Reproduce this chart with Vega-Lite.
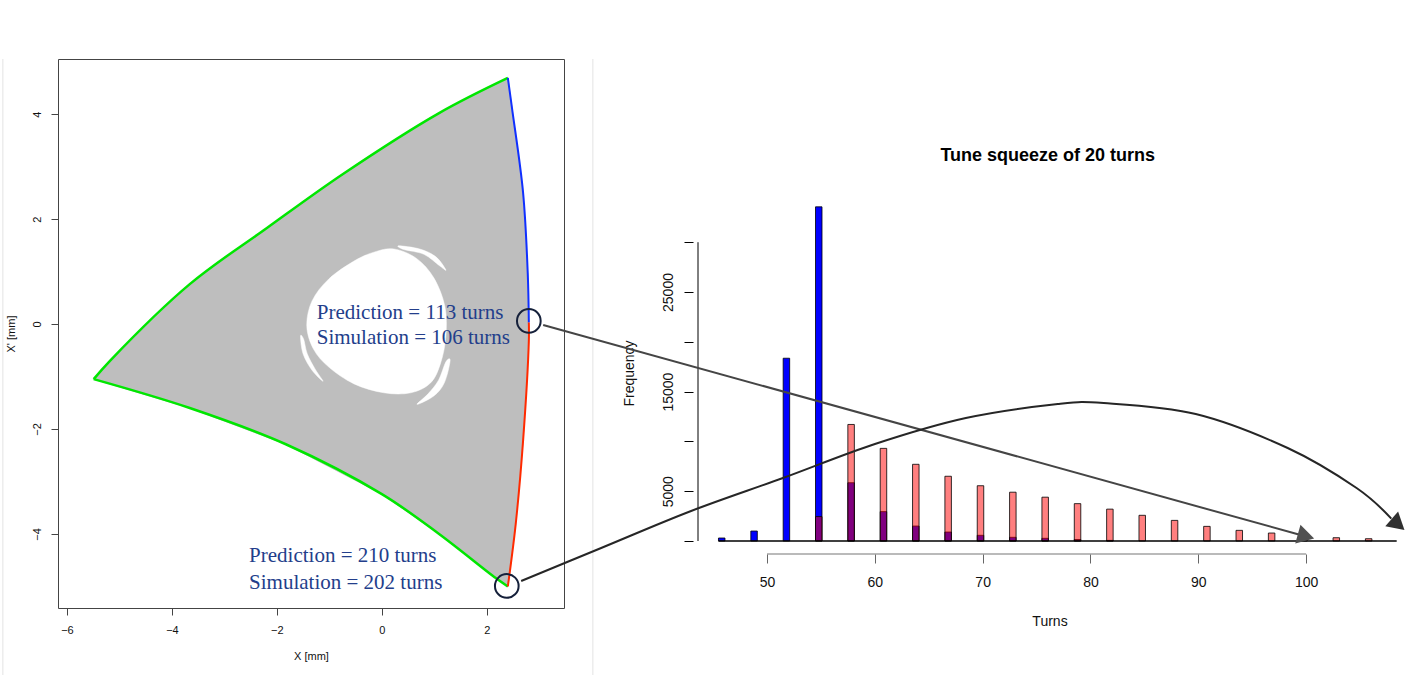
{
  "$schema": "https://vega.github.io/schema/vega-lite/v6.json",
  "padding": {"left": 1, "top": 58, "right": 0, "bottom": 0},
  "background": "white",
  "spacing": 129,
  "bounds": "flush",
  "config": {
    "view": {"stroke": null},
    "axis": {"grid": false, "labelFont": "Liberation Sans", "titleFont": "Liberation Sans", "labelColor": "#111", "titleColor": "#111", "titleFontWeight": "normal"}
  },
  "datasets": {
    "seps": [{"x": -7.22, "y": 5.05, "y2": -6.7}, {"x": 4.02, "y": 5.05, "y2": -6.7}],
    "poly": [
      {"i": 0, "x": -5.49, "y": -1.05}, {"i": 1, "x": -5.18, "y": -0.70}, {"i": 2, "x": -3.66, "y": 0.76},
      {"i": 3, "x": -2.19, "y": 1.83}, {"i": 4, "x": -0.74, "y": 2.86}, {"i": 5, "x": 1.09, "y": 4.02},
      {"i": 6, "x": 2.40, "y": 4.69}, {"i": 7, "x": 2.48, "y": 4.11}, {"i": 8, "x": 2.69, "y": 2.51},
      {"i": 9, "x": 2.78, "y": 0.95}, {"i": 10, "x": 2.80, "y": 0.03}, {"i": 11, "x": 2.80, "y": -0.32},
      {"i": 12, "x": 2.69, "y": -2.23}, {"i": 13, "x": 2.55, "y": -3.81}, {"i": 14, "x": 2.40, "y": -5.0},
      {"i": 15, "x": 2.17, "y": -4.84}, {"i": 16, "x": 1.09, "y": -4.0}, {"i": 17, "x": 0.0, "y": -3.24},
      {"i": 18, "x": -1.83, "y": -2.29}, {"i": 19, "x": -3.66, "y": -1.60}
    ],
    "hole": [
      {"part": "h", "i": 0, "x": 0.23, "y": 1.43}, {"part": "h", "i": 1, "x": 0.66, "y": 1.25},
      {"part": "h", "i": 2, "x": 0.99, "y": 0.88}, {"part": "h", "i": 3, "x": 1.20, "y": 0.34},
      {"part": "h", "i": 4, "x": 1.22, "y": -0.23}, {"part": "h", "i": 5, "x": 1.12, "y": -0.74},
      {"part": "h", "i": 6, "x": 0.93, "y": -1.12}, {"part": "h", "i": 7, "x": 0.55, "y": -1.31},
      {"part": "h", "i": 8, "x": 0.04, "y": -1.31}, {"part": "h", "i": 9, "x": -0.53, "y": -1.14},
      {"part": "h", "i": 10, "x": -1.01, "y": -0.82}, {"part": "h", "i": 11, "x": -1.30, "y": -0.48},
      {"part": "h", "i": 12, "x": -1.43, "y": -0.04}, {"part": "h", "i": 13, "x": -1.33, "y": 0.44},
      {"part": "h", "i": 14, "x": -1.01, "y": 0.86}, {"part": "h", "i": 15, "x": -0.53, "y": 1.20},
      {"part": "h", "i": 16, "x": -0.15, "y": 1.37},
      {"part": "c1", "i": 0, "x": 0.32, "y": 1.49}, {"part": "c1", "i": 1, "x": 0.72, "y": 1.43},
      {"part": "c1", "i": 2, "x": 1.03, "y": 1.28}, {"part": "c1", "i": 3, "x": 1.22, "y": 1.03},
      {"part": "c1", "i": 4, "x": 1.10, "y": 1.11}, {"part": "c1", "i": 5, "x": 0.80, "y": 1.33},
      {"part": "c1", "i": 6, "x": 0.42, "y": 1.42},
      {"part": "c2", "i": 0, "x": -1.55, "y": -0.23}, {"part": "c2", "i": 1, "x": -1.50, "y": -0.57},
      {"part": "c2", "i": 2, "x": -1.33, "y": -0.88}, {"part": "c2", "i": 3, "x": -1.12, "y": -1.09},
      {"part": "c2", "i": 4, "x": -1.27, "y": -0.86}, {"part": "c2", "i": 5, "x": -1.42, "y": -0.57},
      {"part": "c2", "i": 6, "x": -1.49, "y": -0.29},
      {"part": "c3", "i": 0, "x": 1.30, "y": -0.70}, {"part": "c3", "i": 1, "x": 1.19, "y": -1.12},
      {"part": "c3", "i": 2, "x": 0.99, "y": -1.37}, {"part": "c3", "i": 3, "x": 0.67, "y": -1.53},
      {"part": "c3", "i": 4, "x": 0.88, "y": -1.33}, {"part": "c3", "i": 5, "x": 1.08, "y": -1.07},
      {"part": "c3", "i": 6, "x": 1.22, "y": -0.72}
    ],
    "green": [
      {"part": "u", "i": 0, "x": -5.49, "y": -1.05}, {"part": "u", "i": 1, "x": -5.18, "y": -0.70},
      {"part": "u", "i": 2, "x": -3.66, "y": 0.76}, {"part": "u", "i": 3, "x": -2.19, "y": 1.83},
      {"part": "u", "i": 4, "x": -0.74, "y": 2.86}, {"part": "u", "i": 5, "x": 1.09, "y": 4.02},
      {"part": "u", "i": 6, "x": 2.40, "y": 4.69},
      {"part": "l", "i": 0, "x": -5.49, "y": -1.05}, {"part": "l", "i": 1, "x": -3.66, "y": -1.60},
      {"part": "l", "i": 2, "x": -1.83, "y": -2.29}, {"part": "l", "i": 3, "x": 0.0, "y": -3.24},
      {"part": "l", "i": 4, "x": 1.09, "y": -4.0}, {"part": "l", "i": 5, "x": 2.17, "y": -4.84},
      {"part": "l", "i": 6, "x": 2.40, "y": -5.0}
    ],
    "blueEdge": [
      {"i": 0, "x": 2.40, "y": 4.69}, {"i": 1, "x": 2.48, "y": 4.11}, {"i": 2, "x": 2.69, "y": 2.51},
      {"i": 3, "x": 2.78, "y": 0.95}, {"i": 4, "x": 2.80, "y": 0.03}
    ],
    "redEdge": [
      {"i": 0, "x": 2.80, "y": 0.03}, {"i": 1, "x": 2.80, "y": -0.32}, {"i": 2, "x": 2.69, "y": -2.23},
      {"i": 3, "x": 2.55, "y": -3.81}, {"i": 4, "x": 2.40, "y": -5.0}
    ],
    "circles": [{"x": 2.80, "y": 0.06}, {"x": 2.38, "y": -4.99}],
    "notes": [
      {"x": -1.24, "y": 0.21, "label": "Prediction = 113 turns"},
      {"x": -1.24, "y": -0.27, "label": "Simulation = 106 turns"},
      {"x": -2.53, "y": -4.42, "label": "Prediction = 210 turns"},
      {"x": -2.53, "y": -4.93, "label": "Simulation = 202 turns"}
    ],
    "blueBars": [
      {"t": 45.8, "f": 300}, {"t": 48.8, "f": 1000}, {"t": 51.8, "f": 18350}, {"t": 54.8, "f": 33550},
      {"t": 57.8, "f": 5850}, {"t": 60.8, "f": 2950}, {"t": 63.8, "f": 1500}, {"t": 66.8, "f": 900},
      {"t": 69.8, "f": 570}, {"t": 72.8, "f": 370}, {"t": 75.8, "f": 270}, {"t": 78.8, "f": 150},
      {"t": 81.8, "f": 60}
    ],
    "redBars": [
      {"t": 54.8, "f": 2450}, {"t": 57.8, "f": 11700}, {"t": 60.8, "f": 9300}, {"t": 63.8, "f": 7700},
      {"t": 66.8, "f": 6500}, {"t": 69.8, "f": 5550}, {"t": 72.8, "f": 4900}, {"t": 75.8, "f": 4400},
      {"t": 78.8, "f": 3750}, {"t": 81.8, "f": 3200}, {"t": 84.8, "f": 2580}, {"t": 87.8, "f": 2070},
      {"t": 90.8, "f": 1470}, {"t": 93.8, "f": 1070}, {"t": 96.8, "f": 800}, {"t": 99.8, "f": 550},
      {"t": 102.8, "f": 330}, {"t": 105.8, "f": 230}
    ],
    "arrow1": [{"i": 0, "t": 29.24, "f": 21690}, {"i": 1, "t": 99.49, "f": 602}],
    "arrow2": [
      {"i": 0, "t": 27.20, "f": -4016}, {"i": 1, "t": 34.62, "f": -703}, {"i": 2, "t": 42.96, "f": 3012},
      {"i": 3, "t": 51.48, "f": 6325}, {"i": 4, "t": 60.01, "f": 9739}, {"i": 5, "t": 68.44, "f": 12349},
      {"i": 6, "t": 76.97, "f": 13755}, {"i": 7, "t": 81.23, "f": 13855}, {"i": 8, "t": 89.76, "f": 12751},
      {"i": 9, "t": 98.29, "f": 9337}, {"i": 10, "t": 104.68, "f": 5321}, {"i": 11, "t": 107.9, "f": 2250}
    ],
    "heads": [
      {"t": 99.99, "f": 472, "a": 15.5, "c": "#505050"},
      {"t": 108.53, "f": 1667, "a": 41, "c": "#303030"}
    ]
  },
  "hconcat": [
    {
      "width": 506,
      "height": 549,
      "view": {"stroke": "#444", "strokeWidth": 1},
      "encoding": {
        "x": {"field": "x", "type": "quantitative",
          "scale": {"domain": [-6.17, 3.47], "nice": false, "zero": false},
          "axis": {"title": "X [mm]", "values": [-6, -4, -2, 0, 2], "domain": false, "tickSize": 7, "tickColor": "#444",
            "labelPadding": 9, "labelFontSize": 11, "titleFontSize": 11, "titlePadding": 15}},
        "y": {"field": "y", "type": "quantitative",
          "scale": {"domain": [-5.41, 5.05], "nice": false, "zero": false},
          "axis": {"title": "X' [mm]", "values": [-4, -2, 0, 2, 4], "domain": false, "tickSize": 7, "tickColor": "#444",
            "labelAngle": -90, "labelAlign": "center", "labelBaseline": "bottom",
            "labelPadding": 9, "labelFontSize": 11, "titleFontSize": 11, "titlePadding": 15}}
      },
      "layer": [
        {"data": {"name": "seps"},
         "mark": {"type": "rule", "clip": false, "color": "#e3e3e3", "strokeWidth": 1},
         "encoding": {"y2": {"field": "y2"}}},
        {"data": {"name": "poly"},
         "mark": {"type": "line", "fill": "#bebebe", "stroke": "#bebebe", "strokeWidth": 1, "interpolate": "linear-closed"},
         "encoding": {"order": {"field": "i", "type": "quantitative"}}},
        {"data": {"name": "hole"},
         "mark": {"type": "line", "fill": "white", "stroke": "white", "strokeWidth": 0.5, "interpolate": "cardinal-closed"},
         "encoding": {"detail": {"field": "part"}, "order": {"field": "i", "type": "quantitative"}}},
        {"data": {"name": "green"},
         "mark": {"type": "line", "color": "#00e600", "strokeWidth": 2.5, "interpolate": "catmull-rom"},
         "encoding": {"detail": {"field": "part"}, "order": {"field": "i", "type": "quantitative"}}},
        {"data": {"name": "blueEdge"},
         "mark": {"type": "line", "color": "#1030ff", "strokeWidth": 2, "interpolate": "catmull-rom"},
         "encoding": {"order": {"field": "i", "type": "quantitative"}}},
        {"data": {"name": "redEdge"},
         "mark": {"type": "line", "color": "#ff2a00", "strokeWidth": 2, "interpolate": "catmull-rom"},
         "encoding": {"order": {"field": "i", "type": "quantitative"}}},
        {"data": {"name": "circles"},
         "mark": {"type": "point", "shape": "circle", "filled": false, "stroke": "#15203a", "strokeWidth": 2, "size": 560, "opacity": 1}},
        {"data": {"name": "notes"},
         "mark": {"type": "text", "align": "left", "baseline": "middle", "font": "Liberation Serif", "fontSize": 21, "color": "#233e8b"},
         "encoding": {"text": {"field": "label"}}}
      ]
    },
    {
      "width": 713,
      "height": 495,
      "encoding": {
        "x": {"field": "t", "type": "quantitative",
          "scale": {"domain": [43.6, 108.8], "nice": false, "zero": false},
          "axis": {"title": "Turns", "values": [50, 60, 70, 80, 90, 100], "domain": false, "tickSize": 9, "tickColor": "#666",
            "labelPadding": 12, "labelFontSize": 14, "titleFontSize": 14, "titlePadding": 25}},
        "y": {"field": "f", "type": "quantitative",
          "scale": {"domain": [-1305, 48393], "nice": false, "zero": false},
          "axis": {"title": "Frequency", "values": [0, 5000, 10000, 15000, 20000, 25000, 30000], "format": "d",
            "labelExpr": "datum.value == 5000 || datum.value == 15000 || datum.value == 25000 ? datum.label : ''",
            "domain": false, "tickSize": 9, "tickColor": "#000",
            "labelAngle": -90, "labelAlign": "center", "labelBaseline": "bottom",
            "labelPadding": 9, "labelFontSize": 14, "titleFontSize": 14, "titlePadding": 25, "titleY": 314}}
      },
      "layer": [
        {"data": {"name": "blueBars"},
         "mark": {"type": "bar", "orient": "vertical", "width": 6.5, "fill": "#0000ff", "stroke": "#000", "strokeWidth": 0.8}},
        {"data": {"name": "redBars"},
         "mark": {"type": "bar", "orient": "vertical", "width": 6.5, "fill": "#ff0000", "fillOpacity": 0.5, "stroke": "#000", "strokeWidth": 0.8}},
        {"data": {"values": [{"t": 45.5, "t2": 108.4, "f": 0}]},
         "mark": {"type": "rule", "color": "#000", "strokeWidth": 1.3},
         "encoding": {"x2": {"field": "t2"}}},
        {"data": {"values": [{"t": 50, "t2": 100, "f": -1305}]},
         "mark": {"type": "rule", "color": "#777", "strokeWidth": 1.2},
         "encoding": {"x2": {"field": "t2"}}},
        {"data": {"values": [{"t": 43.6, "f": 0, "f2": 30000}]},
         "mark": {"type": "rule", "color": "#000", "strokeWidth": 1},
         "encoding": {"y2": {"field": "f2"}}},
        {"data": {"values": [{"t": 76.04, "f": 38654, "label": "Tune squeeze of 20 turns"}]},
         "mark": {"type": "text", "font": "Liberation Sans", "fontSize": 18, "fontWeight": "bold", "color": "#000", "align": "center", "baseline": "middle"},
         "encoding": {"text": {"field": "label"}}},
        {"data": {"name": "arrow1"},
         "mark": {"type": "line", "clip": false, "color": "#454545", "strokeWidth": 2},
         "encoding": {"order": {"field": "i", "type": "quantitative"}}},
        {"data": {"name": "arrow2"},
         "mark": {"type": "line", "clip": false, "color": "#262626", "strokeWidth": 2, "interpolate": "cardinal"},
         "encoding": {"order": {"field": "i", "type": "quantitative"}}},
        {"data": {"name": "heads"},
         "mark": {"type": "point", "clip": false, "shape": "triangle-right", "filled": true, "opacity": 1, "size": 380},
         "encoding": {"angle": {"field": "a", "type": "quantitative", "scale": null},
           "color": {"field": "c", "type": "nominal", "scale": null}}}
      ]
    }
  ]
}
